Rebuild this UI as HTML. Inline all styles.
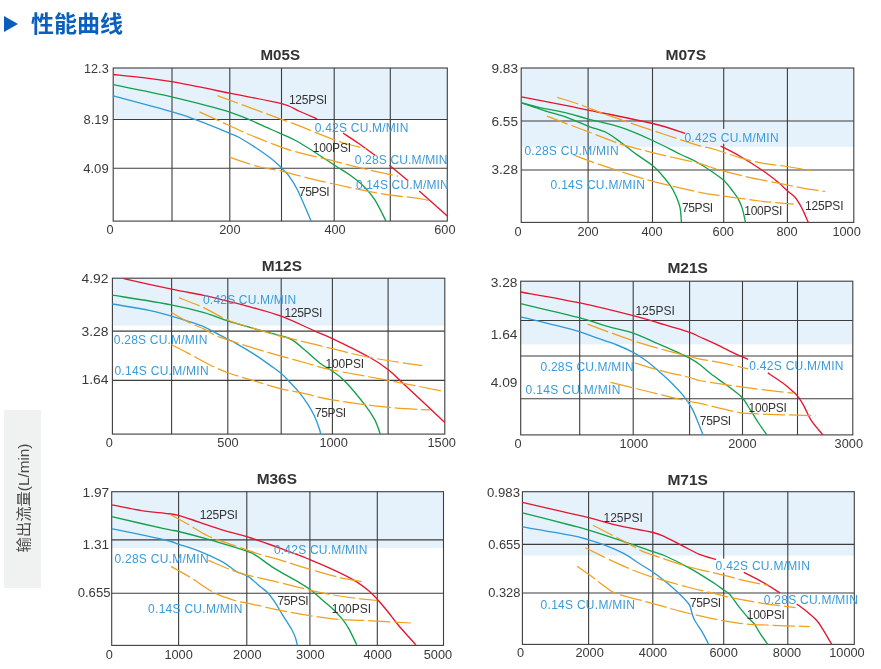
<!DOCTYPE html>
<html><head><meta charset="utf-8"><title>性能曲线</title>
<style>
html,body{margin:0;padding:0;background:#fff;}
body{width:881px;height:669px;overflow:hidden;position:relative;}
.hdr{position:absolute;left:4px;top:8.3px;height:32px;color:#0b5fbe;font-family:"Liberation Sans","Noto Sans CJK SC",sans-serif;font-weight:bold;font-size:23px;line-height:32px;white-space:nowrap;}
.tri{position:absolute;left:4.3px;top:16px;width:0;height:0;border-top:8px solid transparent;border-bottom:8px solid transparent;border-left:14.8px solid #0b5dbd;}
.side{position:absolute;left:4px;top:410px;width:37px;height:178px;background:#f0f1f1;}
.side span{position:absolute;left:50%;top:50%;transform:translate(-50%,-50%) rotate(-90deg);white-space:nowrap;font-family:"Liberation Sans","Noto Sans CJK SC",sans-serif;font-size:15.3px;color:#4a4a4a;margin-top:-1.5px;margin-left:-1px;}
svg{position:absolute;left:0;top:0;}
.g{stroke:#3d3d3d;stroke-width:1.1;fill:none;}
.c{fill:none;stroke-width:1.35;stroke-linejoin:round;}
.o{fill:none;stroke-width:1.25;stroke-dasharray:22 4;}
.l{font-family:'Liberation Sans', Arial, sans-serif;font-size:12px;}
.a{font-family:'Liberation Sans', Arial, sans-serif;font-size:12.3px;fill:#3a3a3a;}
.t{font-family:'Liberation Sans', Arial, sans-serif;font-size:14.2px;font-weight:bold;fill:#333;}
</style></head><body>
<div class="tri"></div>
<div class="hdr" style="left:31px">性能曲线</div>
<div class="side"><span>输出流量(L/min)</span></div>
<svg width="881" height="669" viewBox="0 0 881 669">
<rect x="113.2" y="68.0" width="334.1" height="51.5" fill="#e5f2fc"/>
<line x1="113.2" y1="119.5" x2="447.3" y2="119.5" class="g"/>
<line x1="113.2" y1="168.3" x2="447.3" y2="168.3" class="g"/>
<line x1="172.0" y1="68.0" x2="172.0" y2="221.1" class="g"/>
<line x1="229.8" y1="68.0" x2="229.8" y2="221.1" class="g"/>
<line x1="281.5" y1="68.0" x2="281.5" y2="221.1" class="g"/>
<line x1="334.2" y1="68.0" x2="334.2" y2="221.1" class="g"/>
<line x1="390.3" y1="68.0" x2="390.3" y2="221.1" class="g"/>
<rect x="113.2" y="68.0" width="334.1" height="153.1" fill="none" class="g"/>
<path d="M113.2 74.5 C117.7 75.0 130.3 76.2 140.0 77.4 C149.7 78.6 156.6 79.1 171.6 81.7 C186.6 84.3 211.5 89.5 229.8 93.2 C248.2 96.9 270.0 100.7 281.7 103.7 C293.4 106.8 294.1 109.0 300.0 111.5 C305.9 114.0 314.2 117.6 317.0 118.8" stroke="#e5142f" class="c"/>
<path d="M343.0 133.0 C345.5 134.7 352.7 139.3 358.0 143.0 C363.3 146.7 372.1 153.1 374.9 155.1" stroke="#e5142f" class="c"/>
<path d="M389.4 165.3 L408.1 180.7" stroke="#e5142f" class="c"/>
<path d="M419.2 190.9 L447.3 216.1" stroke="#e5142f" class="c"/>
<path d="M113.2 84.7 C122.9 86.7 152.2 92.3 171.6 96.9 C191.0 101.5 213.2 106.8 229.8 112.2 C246.4 117.6 259.9 124.6 271.2 129.5 C282.5 134.4 287.0 135.6 297.5 141.5 C308.0 147.4 325.5 159.4 334.2 165.0 C342.9 170.6 344.8 171.3 349.9 175.0 C355.0 178.7 360.7 183.2 364.9 187.4 C369.1 191.6 371.4 194.3 374.9 199.9 C378.4 205.5 384.2 217.6 386.1 221.1" stroke="#13a04b" class="c"/>
<path d="M113.2 95.9 C122.9 98.5 158.0 107.8 171.6 111.7 C185.2 115.6 185.2 115.8 194.9 119.4 C204.6 123.0 221.7 129.9 229.8 133.3 C237.9 136.7 236.8 136.0 243.5 140.0 C250.2 144.0 263.4 152.8 269.8 157.5 C276.2 162.2 278.5 165.1 281.7 168.2 C284.9 171.3 286.4 172.4 289.0 176.0 C291.6 179.6 293.8 182.5 297.5 190.0 C301.2 197.5 308.9 215.9 311.2 221.1" stroke="#2f9ad6" class="c"/>
<path d="M217.4 95.6 C228.1 99.6 267.9 114.3 281.7 119.4 C295.5 124.5 290.4 122.5 300.0 126.2 C309.6 129.9 328.1 137.7 339.2 141.5 C350.3 145.3 361.9 147.6 366.4 148.8" stroke="#f1a01c" class="o"/>
<path d="M199.4 111.9 C202.8 113.5 212.4 117.7 220.0 121.2 C227.6 124.7 236.8 129.2 244.9 132.7 C253.0 136.2 260.6 139.3 268.7 142.4 C276.8 145.5 282.7 148.1 293.6 151.2 C304.5 154.3 322.1 158.1 334.0 161.1 C345.9 164.1 354.3 166.5 365.0 169.0 C375.7 171.5 392.5 175.0 398.0 176.2" stroke="#f1a01c" class="o"/>
<path d="M229.4 157.1 C234.5 158.8 251.3 164.7 260.0 167.0 C268.7 169.3 275.0 169.7 281.7 171.2 C288.4 172.7 291.3 173.9 300.0 176.0 C308.7 178.1 320.7 181.1 334.0 184.0 C347.3 186.9 365.8 191.1 380.0 193.5 C394.2 195.9 410.6 197.2 419.2 198.5 C427.8 199.8 429.4 200.8 431.4 201.2" stroke="#f1a01c" class="o"/>
<text x="288.9" y="104.4" textLength="38.1" lengthAdjust="spacing" fill="#333333" class="l">125PSI</text>
<text x="314.7" y="132.3" textLength="93.6" lengthAdjust="spacing" fill="#3a9bd9" class="l">0.42S CU.M/MIN</text>
<text x="312.8" y="152.0" textLength="38.2" lengthAdjust="spacing" fill="#333333" class="l">100PSI</text>
<text x="354.8" y="164.3" textLength="92.7" lengthAdjust="spacing" fill="#3a9bd9" class="l">0.28S CU.M/MIN</text>
<text x="355.9" y="189.0" textLength="92.8" lengthAdjust="spacing" fill="#3a9bd9" class="l">0.14S CU.M/MIN</text>
<text x="299.1" y="196.2" textLength="30.4" lengthAdjust="spacing" fill="#333333" class="l">75PSI</text>
<text x="84.0" y="72.5" textLength="24.7" lengthAdjust="spacingAndGlyphs" class="a">12.3</text>
<text x="83.5" y="124.0" textLength="25.2" lengthAdjust="spacingAndGlyphs" class="a">8.19</text>
<text x="83.2" y="173.0" textLength="25.5" lengthAdjust="spacingAndGlyphs" class="a">4.09</text>
<text x="106.5" y="234.4" textLength="7.1" lengthAdjust="spacingAndGlyphs" class="a">0</text>
<text x="219.2" y="234.4" textLength="21.3" lengthAdjust="spacingAndGlyphs" class="a">200</text>
<text x="324.4" y="234.4" textLength="21.3" lengthAdjust="spacingAndGlyphs" class="a">400</text>
<text x="434.2" y="234.4" textLength="21.3" lengthAdjust="spacingAndGlyphs" class="a">600</text>
<text x="260.4" y="60.0" textLength="39.6" lengthAdjust="spacingAndGlyphs" class="t">M05S</text>
<rect x="521.2" y="68.0" width="332.6" height="78.8" fill="#e5f2fc"/>
<line x1="521.2" y1="121.0" x2="853.8" y2="121.0" class="g"/>
<line x1="521.2" y1="170.0" x2="853.8" y2="170.0" class="g"/>
<line x1="588.1" y1="68.0" x2="588.1" y2="222.4" class="g"/>
<line x1="652.5" y1="68.0" x2="652.5" y2="222.4" class="g"/>
<line x1="723.7" y1="68.0" x2="723.7" y2="222.4" class="g"/>
<line x1="787.4" y1="68.0" x2="787.4" y2="222.4" class="g"/>
<rect x="521.2" y="68.0" width="332.6" height="154.4" fill="none" class="g"/>
<rect x="684.0" y="128.9" width="95.6" height="14.8" fill="#e5f2fc"/>
<path d="M521.5 96.8 C529.2 98.3 556.9 103.7 568.0 105.9 C579.1 108.1 574.0 107.2 588.1 110.1 C602.2 113.0 636.4 119.6 652.6 123.5 C668.8 127.4 679.8 131.8 685.3 133.4" stroke="#e5142f" class="c"/>
<path d="M720.7 146.1 C724.0 147.8 733.4 152.4 740.4 156.5 C747.4 160.6 756.2 166.2 762.6 170.5 C769.0 174.8 774.4 179.2 778.5 182.6 C782.6 186.0 784.6 188.4 787.4 190.8 C790.1 193.2 792.9 194.9 795.0 197.2 C797.1 199.5 798.6 202.3 800.1 204.8 C801.6 207.3 802.5 209.4 803.9 212.4 C805.3 215.4 807.6 220.9 808.4 222.6" stroke="#e5142f" class="c"/>
<path d="M521.5 102.8 C524.6 103.6 532.2 105.8 540.0 107.6 C547.8 109.3 560.0 111.4 568.0 113.3 C576.0 115.2 579.1 116.7 588.1 119.1 C597.1 121.5 611.0 124.1 621.7 127.7 C632.5 131.3 642.9 136.1 652.6 140.5 C662.3 144.9 672.3 150.3 679.8 154.0 C687.3 157.7 691.6 159.2 697.5 162.5 C703.4 165.8 710.6 170.7 715.0 173.7 C719.4 176.7 721.1 178.0 723.9 180.6 C726.6 183.2 729.2 186.5 731.5 189.5 C733.8 192.5 736.1 195.2 737.9 198.4 C739.7 201.6 741.0 204.6 742.3 208.6 C743.6 212.6 745.0 220.3 745.5 222.6" stroke="#13a04b" class="c"/>
<path d="M521.5 102.8 C525.4 104.1 537.2 108.3 545.0 110.8 C552.8 113.3 560.7 115.2 568.0 117.8 C575.3 120.4 582.2 123.8 588.6 126.3 C595.0 128.8 600.8 129.8 606.3 132.5 C611.8 135.2 616.1 139.0 621.3 142.7 C626.4 146.4 631.6 150.8 637.2 154.9 C642.8 159.0 649.4 162.5 654.8 167.5 C660.2 172.5 666.3 180.2 669.8 184.9 C673.3 189.7 674.3 192.2 676.0 196.0 C677.7 199.8 679.1 203.0 680.0 207.4 C680.9 211.8 681.2 219.9 681.4 222.4" stroke="#13a04b" class="c"/>
<path d="M557.2 97.4 C561.0 98.6 572.3 101.9 580.0 104.6 C587.7 107.3 595.4 110.7 603.6 113.7 C611.8 116.7 620.8 119.7 629.2 122.6 C637.6 125.5 645.8 128.2 654.2 131.0 C662.6 133.8 672.2 137.0 679.8 139.5 C687.4 142.0 694.1 144.1 700.0 145.8 C705.9 147.5 708.3 147.5 715.0 149.5 C721.7 151.5 732.6 155.5 740.4 157.8 C748.2 160.1 754.8 161.7 762.0 163.1 C769.2 164.5 775.4 164.8 783.6 166.0 C791.9 167.2 806.9 169.8 811.5 170.5" stroke="#f1a01c" class="o"/>
<path d="M547.0 116.1 C550.5 117.5 561.3 121.7 568.2 124.3 C575.1 126.9 580.2 128.6 588.6 131.8 C597.0 135.0 609.4 140.3 618.5 143.4 C627.6 146.5 635.4 148.2 643.1 150.2 C650.9 152.2 655.5 153.3 665.0 155.6 C674.5 157.8 691.7 161.5 700.0 163.7 C708.3 165.9 707.2 166.4 715.0 168.6 C722.8 170.8 736.2 174.4 746.8 176.8 C757.4 179.2 769.0 181.3 778.5 183.2 C788.0 185.1 796.1 186.9 803.9 188.3 C811.6 189.7 821.5 190.9 825.0 191.4" stroke="#f1a01c" class="o"/>
<path d="M573.6 155.0 C576.3 156.0 582.8 158.7 589.9 161.2 C597.0 163.7 605.7 166.7 616.1 170.0 C626.5 173.3 638.3 177.5 652.3 181.2 C666.3 184.9 689.5 190.1 700.0 192.4 C710.5 194.7 708.9 194.0 715.0 194.9 C721.1 195.8 729.2 196.8 736.6 197.8 C744.0 198.8 750.0 199.9 759.5 201.0 C769.0 202.1 788.1 203.6 793.8 204.1" stroke="#f1a01c" class="o"/>
<text x="684.4" y="142.2" textLength="94.2" lengthAdjust="spacing" fill="#3a9bd9" class="l">0.42S CU.M/MIN</text>
<text x="524.4" y="154.6" textLength="94.2" lengthAdjust="spacing" fill="#3a9bd9" class="l">0.28S CU.M/MIN</text>
<text x="550.6" y="188.6" textLength="94.2" lengthAdjust="spacing" fill="#3a9bd9" class="l">0.14S CU.M/MIN</text>
<text x="681.9" y="212.4" textLength="31.3" lengthAdjust="spacing" fill="#333333" class="l">75PSI</text>
<text x="744.3" y="215.4" textLength="38.0" lengthAdjust="spacing" fill="#333333" class="l">100PSI</text>
<text x="805.0" y="210.4" textLength="38.5" lengthAdjust="spacing" fill="#333333" class="l">125PSI</text>
<text x="491.5" y="73.2" textLength="26.5" lengthAdjust="spacingAndGlyphs" class="a">9.83</text>
<text x="491.5" y="125.6" textLength="26.5" lengthAdjust="spacingAndGlyphs" class="a">6.55</text>
<text x="491.5" y="174.4" textLength="26.5" lengthAdjust="spacingAndGlyphs" class="a">3.28</text>
<text x="514.5" y="236.0" textLength="7.1" lengthAdjust="spacingAndGlyphs" class="a">0</text>
<text x="577.4" y="236.0" textLength="21.3" lengthAdjust="spacingAndGlyphs" class="a">200</text>
<text x="641.4" y="236.0" textLength="21.3" lengthAdjust="spacingAndGlyphs" class="a">400</text>
<text x="712.6" y="236.0" textLength="21.3" lengthAdjust="spacingAndGlyphs" class="a">600</text>
<text x="776.4" y="236.0" textLength="21.3" lengthAdjust="spacingAndGlyphs" class="a">800</text>
<text x="832.4" y="236.0" textLength="28.4" lengthAdjust="spacingAndGlyphs" class="a">1000</text>
<text x="665.4" y="60.0" textLength="40.8" lengthAdjust="spacingAndGlyphs" class="t">M07S</text>
<rect x="112.4" y="278.2" width="332.4" height="47.5" fill="#e5f2fc"/>
<line x1="112.4" y1="331.1" x2="444.8" y2="331.1" class="g"/>
<line x1="112.4" y1="380.4" x2="444.8" y2="380.4" class="g"/>
<line x1="171.6" y1="278.2" x2="171.6" y2="434.1" class="g"/>
<line x1="227.8" y1="278.2" x2="227.8" y2="434.1" class="g"/>
<line x1="281.2" y1="278.2" x2="281.2" y2="434.1" class="g"/>
<line x1="332.4" y1="278.2" x2="332.4" y2="434.1" class="g"/>
<line x1="388.1" y1="278.2" x2="388.1" y2="434.1" class="g"/>
<rect x="112.4" y="278.2" width="332.4" height="155.9" fill="none" class="g"/>
<path d="M123.7 278.7 C131.7 280.4 158.3 286.4 171.6 289.2 C184.9 292.0 194.2 293.4 203.6 295.4 C213.0 297.4 220.1 299.3 227.8 301.2 C235.5 303.1 241.1 304.4 250.0 306.9 C258.9 309.4 270.4 312.2 281.2 316.2 C292.0 320.2 306.4 327.4 314.9 331.1 C323.4 334.8 323.2 334.2 332.4 338.6 C341.6 343.0 360.5 352.3 369.9 357.5 C379.3 362.7 382.8 365.4 388.6 370.0 C394.4 374.6 395.4 376.2 404.8 384.9 C414.2 393.6 438.1 416.1 444.8 422.4" stroke="#e5142f" class="c"/>
<path d="M112.4 295.1 C122.2 296.7 155.9 301.9 171.2 304.8 C186.5 307.7 194.7 309.9 204.1 312.6 C213.5 315.3 219.3 318.2 227.7 320.9 C236.1 323.6 245.5 326.1 254.4 328.6 C263.3 331.1 274.7 333.9 281.0 335.8 C287.3 337.7 288.0 337.3 292.2 339.8 C296.4 342.3 301.4 347.1 306.0 351.0 C310.6 354.9 315.3 359.6 319.7 363.0 C324.1 366.4 328.2 368.2 332.4 371.2 C336.6 374.2 339.5 375.6 344.9 381.2 C350.3 386.8 359.9 398.4 364.9 404.9 C369.9 411.3 372.2 415.0 374.8 419.9 C377.4 424.8 379.4 431.7 380.3 434.1" stroke="#13a04b" class="c"/>
<path d="M112.4 304.0 C118.5 305.1 139.4 308.3 149.2 310.3 C159.0 312.3 164.7 314.3 171.2 316.1 C177.7 317.9 182.9 319.5 188.4 321.3 C193.9 323.1 198.8 324.5 204.1 326.8 C209.4 329.1 214.5 332.2 220.0 335.1 C225.5 338.0 231.5 340.9 237.2 344.1 C242.9 347.3 248.7 350.7 254.4 354.4 C260.1 358.1 267.2 363.2 271.6 366.4 C276.0 369.5 278.1 370.9 281.0 373.3 C283.9 375.7 285.8 377.9 288.8 381.0 C291.8 384.1 295.9 388.3 299.0 392.2 C302.1 396.1 305.1 400.2 307.7 404.2 C310.3 408.2 312.5 412.0 314.5 416.3 C316.5 420.6 318.7 427.0 319.7 430.0 C320.7 433.0 320.5 433.4 320.6 434.1" stroke="#2f9ad6" class="c"/>
<path d="M179.0 297.7 C183.2 299.4 196.0 304.2 204.1 307.9 C212.2 311.6 219.3 316.6 227.7 320.0 C236.1 323.4 245.5 325.9 254.4 328.6 C263.3 331.3 274.7 334.6 281.0 336.3 C287.3 338.0 283.6 336.8 292.2 338.9 C300.8 341.0 319.4 345.6 332.4 348.7 C345.3 351.8 354.9 354.7 369.9 357.5 C384.9 360.3 413.6 364.3 422.3 365.7" stroke="#f1a01c" class="o"/>
<path d="M171.5 312.6 C174.3 314.2 183.0 319.4 188.4 322.1 C193.8 324.9 198.8 326.6 204.1 329.1 C209.4 331.6 211.6 334.0 220.0 337.2 C228.4 340.4 244.2 345.2 254.4 348.4 C264.6 351.5 272.4 353.7 281.0 356.1 C289.6 358.5 297.4 360.7 306.0 363.0 C314.6 365.3 318.6 367.1 332.4 370.0 C346.2 372.9 369.9 376.8 388.6 380.4 C407.3 384.0 435.4 389.8 444.8 391.7" stroke="#f1a01c" class="o"/>
<path d="M171.5 344.8 C174.3 346.2 181.9 350.0 188.4 353.4 C194.9 356.8 203.5 361.8 210.4 365.2 C217.3 368.6 222.7 370.9 230.0 373.5 C237.3 376.1 245.9 378.4 254.4 381.0 C262.9 383.6 272.4 386.7 281.0 388.8 C289.6 390.9 297.4 392.0 306.0 393.9 C314.6 395.8 318.6 397.6 332.4 399.9 C346.2 402.1 372.4 405.7 388.6 407.4 C404.8 409.1 422.9 409.5 429.8 409.9" stroke="#f1a01c" class="o"/>
<text x="203.0" y="303.6" textLength="93.2" lengthAdjust="spacing" fill="#3a9bd9" class="l">0.42S CU.M/MIN</text>
<text x="284.4" y="317.2" textLength="38.0" lengthAdjust="spacing" fill="#333333" class="l">125PSI</text>
<text x="113.8" y="343.6" textLength="93.5" lengthAdjust="spacing" fill="#3a9bd9" class="l">0.28S CU.M/MIN</text>
<text x="114.4" y="375.4" textLength="94.2" lengthAdjust="spacing" fill="#3a9bd9" class="l">0.14S CU.M/MIN</text>
<text x="325.6" y="367.5" textLength="38.5" lengthAdjust="spacing" fill="#333333" class="l">100PSI</text>
<text x="315.1" y="416.7" textLength="31.0" lengthAdjust="spacing" fill="#333333" class="l">75PSI</text>
<text x="81.5" y="283.2" textLength="27.0" lengthAdjust="spacingAndGlyphs" class="a">4.92</text>
<text x="81.5" y="335.6" textLength="27.0" lengthAdjust="spacingAndGlyphs" class="a">3.28</text>
<text x="81.5" y="384.4" textLength="27.0" lengthAdjust="spacingAndGlyphs" class="a">1.64</text>
<text x="105.8" y="447.4" textLength="7.1" lengthAdjust="spacingAndGlyphs" class="a">0</text>
<text x="217.3" y="447.4" textLength="21.3" lengthAdjust="spacingAndGlyphs" class="a">500</text>
<text x="319.4" y="447.4" textLength="28.4" lengthAdjust="spacingAndGlyphs" class="a">1000</text>
<text x="427.5" y="447.4" textLength="28.4" lengthAdjust="spacingAndGlyphs" class="a">1500</text>
<text x="261.7" y="271.2" textLength="40.3" lengthAdjust="spacingAndGlyphs" class="t">M12S</text>
<rect x="520.7" y="281.2" width="332.1" height="63.2" fill="#e5f2fc"/>
<line x1="520.7" y1="320.5" x2="852.8" y2="320.5" class="g"/>
<line x1="520.7" y1="356.0" x2="852.8" y2="356.0" class="g"/>
<line x1="520.7" y1="398.7" x2="852.8" y2="398.7" class="g"/>
<line x1="579.7" y1="281.2" x2="579.7" y2="434.9" class="g"/>
<line x1="633.2" y1="281.2" x2="633.2" y2="434.9" class="g"/>
<line x1="689.6" y1="281.2" x2="689.6" y2="434.9" class="g"/>
<line x1="742.5" y1="281.2" x2="742.5" y2="434.9" class="g"/>
<line x1="797.5" y1="281.2" x2="797.5" y2="434.9" class="g"/>
<rect x="520.7" y="281.2" width="332.1" height="153.7" fill="none" class="g"/>
<path d="M520.7 292.0 C530.6 293.8 561.1 298.9 579.9 302.9 C598.6 306.8 620.1 312.3 633.2 315.7 C646.3 319.1 649.3 320.2 658.7 323.0 C668.1 325.8 682.8 330.1 689.7 332.4 C696.6 334.7 695.3 334.9 700.0 337.0 C704.7 339.1 711.9 342.2 717.9 345.1 C723.9 348.0 730.9 351.7 735.9 354.1 C740.9 356.5 746.1 358.5 748.1 359.4" stroke="#e5142f" class="c"/>
<path d="M767.8 372.9 C770.2 374.5 778.3 379.7 782.5 382.8 C786.7 385.9 790.6 389.3 793.2 391.7 C795.8 394.1 796.5 394.7 798.3 397.1 C800.1 399.5 801.9 402.2 804.0 406.1 C806.1 410.0 808.1 415.6 811.2 420.4 C814.3 425.2 820.9 432.4 822.8 434.8" stroke="#e5142f" class="c"/>
<path d="M520.7 303.7 C530.6 306.1 565.6 314.1 579.9 317.9 C594.2 321.6 597.5 323.7 606.4 326.2 C615.3 328.7 624.5 330.1 633.2 333.1 C641.9 336.1 651.7 341.0 658.7 344.0 C665.8 347.0 670.3 348.9 675.5 351.3 C680.7 353.7 685.6 355.9 689.7 358.2 C693.8 360.4 696.5 362.2 700.0 364.8 C703.5 367.4 706.9 370.8 710.8 373.8 C714.7 376.8 719.4 380.0 723.3 382.8 C727.2 385.6 730.9 388.3 734.1 390.8 C737.3 393.3 739.8 394.9 742.5 398.0 C745.2 401.1 747.4 405.4 750.2 409.7 C753.0 414.0 756.5 419.8 759.2 424.0 C762.0 428.2 765.5 433.0 766.7 434.8" stroke="#13a04b" class="c"/>
<path d="M520.7 316.9 C529.8 319.1 562.5 326.9 575.0 330.4 C587.5 333.9 588.9 335.3 595.9 337.7 C602.9 340.1 610.7 342.6 616.9 345.0 C623.1 347.4 628.3 349.7 633.2 352.3 C638.1 354.9 642.0 357.6 646.2 360.7 C650.5 363.8 654.5 367.5 658.7 371.2 C662.9 374.9 667.1 378.5 671.3 382.7 C675.5 386.9 680.4 391.9 683.9 396.3 C687.4 400.7 689.8 404.4 692.2 408.9 C694.6 413.4 696.7 419.1 698.5 423.5 C700.3 427.9 702.3 433.1 703.1 435.0" stroke="#2f9ad6" class="c"/>
<path d="M587.6 324.1 C595.2 326.9 620.3 336.5 633.2 340.8 C646.1 345.1 655.6 347.6 665.0 350.2 C674.4 352.8 683.9 355.0 689.7 356.5 C695.5 358.0 695.3 358.2 700.0 359.1 C704.7 360.0 709.9 360.5 717.9 362.1 C725.9 363.7 743.1 367.7 748.1 368.8" stroke="#f1a01c" class="o"/>
<path d="M634.7 362.8 C638.7 364.0 649.5 367.7 658.7 370.1 C667.9 372.6 682.5 375.7 689.7 377.5 C696.9 379.3 692.9 379.4 701.8 381.0 C710.7 382.6 727.8 385.2 743.0 387.2 C758.2 389.2 784.8 392.2 793.2 393.2" stroke="#f1a01c" class="o"/>
<path d="M610.6 382.3 C614.4 383.2 624.5 385.8 633.2 387.9 C641.9 390.0 653.5 392.9 662.9 395.2 C672.3 397.5 683.5 400.1 689.7 401.5 C695.9 402.9 692.3 401.7 700.0 403.4 C707.7 405.1 726.9 410.1 735.9 411.8 C744.9 413.5 740.5 412.9 753.8 413.6 C767.1 414.3 805.4 415.5 815.7 415.9" stroke="#f1a01c" class="o"/>
<text x="635.4" y="314.8" textLength="39.4" lengthAdjust="spacing" fill="#333333" class="l">125PSI</text>
<text x="540.6" y="370.7" textLength="93.0" lengthAdjust="spacing" fill="#3a9bd9" class="l">0.28S CU.M/MIN</text>
<text x="525.6" y="394.4" textLength="94.7" lengthAdjust="spacing" fill="#3a9bd9" class="l">0.14S CU.M/MIN</text>
<text x="749.3" y="369.5" textLength="94.2" lengthAdjust="spacing" fill="#3a9bd9" class="l">0.42S CU.M/MIN</text>
<text x="748.5" y="411.9" textLength="38.3" lengthAdjust="spacing" fill="#333333" class="l">100PSI</text>
<text x="699.8" y="425.4" textLength="31.4" lengthAdjust="spacing" fill="#333333" class="l">75PSI</text>
<text x="490.7" y="286.7" textLength="26.8" lengthAdjust="spacingAndGlyphs" class="a">3.28</text>
<text x="490.7" y="338.6" textLength="26.8" lengthAdjust="spacingAndGlyphs" class="a">1.64</text>
<text x="490.7" y="387.4" textLength="26.8" lengthAdjust="spacingAndGlyphs" class="a">4.09</text>
<text x="514.6" y="447.9" textLength="7.1" lengthAdjust="spacingAndGlyphs" class="a">0</text>
<text x="619.6" y="447.9" textLength="28.4" lengthAdjust="spacingAndGlyphs" class="a">1000</text>
<text x="728.2" y="447.9" textLength="28.4" lengthAdjust="spacingAndGlyphs" class="a">2000</text>
<text x="834.6" y="447.9" textLength="28.4" lengthAdjust="spacingAndGlyphs" class="a">3000</text>
<text x="667.4" y="272.5" textLength="40.6" lengthAdjust="spacingAndGlyphs" class="t">M21S</text>
<rect x="111.7" y="491.7" width="331.8" height="56.2" fill="#e5f2fc"/>
<line x1="111.7" y1="539.9" x2="443.5" y2="539.9" class="g"/>
<line x1="111.7" y1="593.2" x2="443.5" y2="593.2" class="g"/>
<line x1="178.6" y1="491.7" x2="178.6" y2="645.4" class="g"/>
<line x1="246.8" y1="491.7" x2="246.8" y2="645.4" class="g"/>
<line x1="309.9" y1="491.7" x2="309.9" y2="645.4" class="g"/>
<line x1="377.3" y1="491.7" x2="377.3" y2="645.4" class="g"/>
<rect x="111.7" y="491.7" width="331.8" height="153.7" fill="none" class="g"/>
<path d="M111.7 504.9 C117.2 505.9 136.0 509.8 144.9 511.2 C153.8 512.6 159.4 512.6 165.0 513.3 C170.6 514.0 172.9 513.8 178.6 515.3 C184.3 516.8 191.4 519.5 199.1 522.1 C206.8 524.7 216.7 528.2 224.6 530.6 C232.5 533.0 238.5 534.0 246.7 536.6 C254.9 539.2 265.1 542.8 274.0 546.0 C282.9 549.2 294.0 553.3 300.0 555.6 C306.0 557.9 304.4 557.4 309.9 559.7 C315.4 562.0 325.5 566.2 332.9 569.6 C340.3 573.0 348.2 576.8 354.2 580.3 C360.2 583.8 365.2 587.8 369.0 590.9 C372.8 594.0 374.2 595.9 377.2 599.2 C380.2 602.5 383.5 606.3 387.1 610.7 C390.7 615.1 393.8 619.8 398.6 625.5 C403.4 631.2 413.0 641.6 415.9 644.8" stroke="#e5142f" class="c"/>
<path d="M111.7 516.7 C120.6 518.7 153.8 526.4 165.0 528.9 C176.2 531.4 171.5 529.8 178.6 531.5 C185.7 533.2 196.2 535.9 207.6 539.2 C218.9 542.5 238.5 548.3 246.7 551.1 C254.9 553.9 252.4 553.4 257.0 556.2 C261.6 559.0 267.2 563.9 274.0 568.1 C280.8 572.4 291.8 578.2 297.8 581.7 C303.8 585.2 306.0 586.4 309.9 589.3 C313.8 592.2 317.6 595.9 321.4 599.2 C325.2 602.5 329.3 605.6 332.9 609.0 C336.4 612.4 340.0 616.3 342.7 619.7 C345.4 623.1 347.0 625.4 349.3 629.6 C351.6 633.8 355.5 642.3 356.7 644.8" stroke="#13a04b" class="c"/>
<path d="M111.7 528.7 C120.6 530.6 153.8 537.4 165.0 540.0 C176.2 542.6 172.9 542.4 178.6 544.3 C184.3 546.1 191.7 548.1 199.1 551.1 C206.5 554.1 216.7 558.7 222.9 562.1 C229.1 565.5 232.2 569.1 236.5 571.5 C240.8 573.9 244.4 574.1 248.4 576.6 C252.4 579.1 257.2 584.1 260.4 586.8 C263.6 589.4 265.1 589.9 267.5 592.5 C269.9 595.1 272.5 598.7 275.0 602.4 C277.5 606.1 279.7 610.3 282.5 614.9 C285.3 619.5 289.8 626.1 292.0 630.0 C294.2 633.9 294.6 635.4 295.5 638.0 C296.4 640.6 297.1 644.2 297.4 645.4" stroke="#2f9ad6" class="c"/>
<path d="M170.1 514.5 C172.9 516.0 180.8 520.2 187.1 523.8 C193.3 527.3 199.9 532.2 207.6 535.8 C215.3 539.3 224.3 542.0 233.1 545.1 C241.9 548.2 253.3 552.2 260.4 554.5 C267.5 556.8 269.1 556.7 275.7 558.7 C282.3 560.7 293.2 564.2 300.0 566.3 C306.8 568.4 309.5 569.3 316.4 571.2 C323.2 573.1 333.6 576.1 341.1 577.8 C348.6 579.5 358.2 580.8 361.6 581.4" stroke="#f1a01c" class="o"/>
<path d="M208.4 560.4 C212.5 562.1 226.7 568.3 233.1 570.7 C239.5 573.1 239.6 573.1 246.7 574.9 C253.8 576.7 266.8 579.6 275.7 581.7 C284.6 583.8 291.8 585.8 300.0 587.7 C308.2 589.7 316.5 591.8 324.7 593.4 C332.9 595.0 340.6 596.3 349.3 597.5 C358.1 598.7 372.6 600.0 377.2 600.5" stroke="#f1a01c" class="o"/>
<path d="M171.0 566.4 C174.2 568.2 183.6 573.2 190.5 577.5 C197.4 581.8 205.6 588.2 212.7 592.0 C219.8 595.8 226.9 598.0 233.1 600.0 C239.3 602.0 240.5 601.7 250.0 603.7 C259.5 605.7 276.2 609.7 290.0 612.2 C303.8 614.7 320.3 617.5 332.9 618.9 C345.5 620.3 352.7 619.8 365.7 620.5 C378.7 621.2 403.4 622.6 410.9 623.0" stroke="#f1a01c" class="o"/>
<text x="199.7" y="518.6" textLength="38.1" lengthAdjust="spacing" fill="#333333" class="l">125PSI</text>
<text x="114.4" y="562.6" textLength="94.2" lengthAdjust="spacing" fill="#3a9bd9" class="l">0.28S CU.M/MIN</text>
<text x="273.9" y="553.5" textLength="93.5" lengthAdjust="spacing" fill="#3a9bd9" class="l">0.42S CU.M/MIN</text>
<text x="148.1" y="612.8" textLength="94.2" lengthAdjust="spacing" fill="#3a9bd9" class="l">0.14S CU.M/MIN</text>
<text x="277.4" y="605.4" textLength="31.3" lengthAdjust="spacing" fill="#333333" class="l">75PSI</text>
<text x="331.8" y="612.8" textLength="39.3" lengthAdjust="spacing" fill="#333333" class="l">100PSI</text>
<text x="82.5" y="496.7" textLength="26.7" lengthAdjust="spacingAndGlyphs" class="a">1.97</text>
<text x="82.5" y="548.6" textLength="26.7" lengthAdjust="spacingAndGlyphs" class="a">1.31</text>
<text x="77.7" y="597.4" textLength="32.8" lengthAdjust="spacingAndGlyphs" class="a">0.655</text>
<text x="105.8" y="658.6" textLength="7.1" lengthAdjust="spacingAndGlyphs" class="a">0</text>
<text x="164.4" y="658.6" textLength="28.4" lengthAdjust="spacingAndGlyphs" class="a">1000</text>
<text x="233.1" y="658.6" textLength="28.4" lengthAdjust="spacingAndGlyphs" class="a">2000</text>
<text x="296.1" y="658.6" textLength="28.4" lengthAdjust="spacingAndGlyphs" class="a">3000</text>
<text x="363.5" y="658.6" textLength="28.4" lengthAdjust="spacingAndGlyphs" class="a">4000</text>
<text x="423.7" y="658.6" textLength="28.4" lengthAdjust="spacingAndGlyphs" class="a">5000</text>
<text x="256.7" y="484.2" textLength="40.3" lengthAdjust="spacingAndGlyphs" class="t">M36S</text>
<rect x="522.4" y="491.7" width="331.9" height="63.9" fill="#e5f2fc"/>
<line x1="522.4" y1="544.4" x2="854.3" y2="544.4" class="g"/>
<line x1="522.4" y1="593.0" x2="854.3" y2="593.0" class="g"/>
<line x1="588.6" y1="491.7" x2="588.6" y2="644.4" class="g"/>
<line x1="652.8" y1="491.7" x2="652.8" y2="644.4" class="g"/>
<line x1="723.7" y1="491.7" x2="723.7" y2="644.4" class="g"/>
<line x1="787.8" y1="491.7" x2="787.8" y2="644.4" class="g"/>
<rect x="522.4" y="491.7" width="331.9" height="152.7" fill="none" class="g"/>
<rect x="716.0" y="558.6" width="29.0" height="13.9" fill="#ffffff"/>
<path d="M522.4 502.4 C527.8 503.6 547.0 508.1 554.9 509.9 C562.8 511.7 564.4 512.1 570.0 513.4 C575.6 514.7 580.2 515.6 588.7 517.7 C597.2 519.8 610.4 523.7 621.1 526.2 C631.8 528.7 645.7 530.7 653.1 532.5 C660.5 534.3 660.5 535.0 665.4 537.2 C670.3 539.4 676.7 542.9 682.4 545.8 C688.1 548.6 693.8 552.0 699.4 554.3 C705.0 556.6 713.3 558.5 716.1 559.4" stroke="#e5142f" class="c"/>
<path d="M743.8 572.3 C746.7 573.8 755.1 577.9 761.1 581.3 C767.1 584.7 776.9 591.0 780.0 592.9" stroke="#e5142f" class="c"/>
<path d="M796.8 604.0 C798.5 605.3 803.8 609.0 807.2 611.8 C810.6 614.6 814.3 617.6 817.0 620.8 C819.7 623.9 821.1 626.7 823.6 630.7 C826.1 634.7 830.5 642.4 831.9 644.7" stroke="#e5142f" class="c"/>
<path d="M522.4 512.9 C530.3 514.9 559.0 522.1 570.0 525.0 C581.0 527.9 580.2 527.5 588.7 530.1 C597.2 532.7 610.4 537.0 621.1 540.6 C631.8 544.2 645.7 549.1 653.1 551.7 C660.5 554.3 659.4 553.3 665.4 556.0 C671.4 558.7 682.4 564.2 689.2 567.9 C696.0 571.6 701.9 575.5 706.2 578.1 C710.5 580.8 712.2 581.9 715.0 583.8 C717.8 585.7 720.7 587.8 723.2 589.6 C725.7 591.4 727.0 591.5 729.8 594.5 C732.5 597.5 736.7 603.9 739.7 607.7 C742.7 611.5 745.4 614.8 747.9 617.5 C750.4 620.2 752.6 621.6 754.5 624.1 C756.4 626.6 757.1 629.0 759.4 632.4 C761.6 635.8 766.6 642.7 768.0 644.7" stroke="#13a04b" class="c"/>
<path d="M522.4 526.9 C530.3 528.3 559.0 533.1 570.0 535.2 C581.0 537.4 583.0 538.2 588.7 539.8 C594.4 541.4 598.1 542.5 604.1 544.9 C610.1 547.2 618.8 550.9 624.5 553.9 C630.2 556.9 633.6 559.9 638.1 562.8 C642.6 565.7 647.2 568.2 651.7 571.3 C656.2 574.4 660.9 577.8 665.4 581.5 C669.9 585.2 675.0 589.6 679.0 593.4 C683.0 597.2 687.1 601.4 689.2 604.5 C691.3 607.6 690.8 609.6 691.7 612.2 C692.6 614.8 692.7 616.6 694.5 620.0 C696.3 623.4 700.0 628.3 702.4 632.4 C704.8 636.5 707.7 642.4 708.7 644.4" stroke="#2f9ad6" class="c"/>
<path d="M593.0 525.3 C597.7 527.7 613.0 535.5 621.1 539.8 C629.2 544.1 636.2 548.3 641.5 550.9 C646.8 553.5 647.4 553.1 653.1 555.1 C658.8 557.1 667.9 560.4 675.6 562.8 C683.3 565.2 692.8 567.9 699.4 569.6 C706.0 571.3 709.6 571.8 715.0 573.1 C720.4 574.4 726.0 575.8 731.5 577.2 C737.0 578.6 741.7 579.9 747.9 581.3 C754.1 582.7 765.1 584.7 768.5 585.4" stroke="#f1a01c" class="o"/>
<path d="M585.3 547.8 C589.8 550.0 604.3 557.2 612.6 561.1 C620.9 565.0 628.2 568.3 635.0 571.0 C641.8 573.7 644.1 574.5 653.1 577.3 C662.1 580.0 678.9 584.8 689.2 587.5 C699.5 590.2 708.0 592.0 715.0 593.7 C722.0 595.4 723.3 596.1 731.5 597.8 C739.7 599.4 753.7 602.0 764.4 603.6 C775.1 605.2 790.4 607.0 795.6 607.7" stroke="#f1a01c" class="o"/>
<path d="M577.2 566.2 C579.4 567.8 584.8 571.5 590.4 575.6 C596.0 579.7 605.8 587.6 610.9 590.9 C616.0 594.1 614.1 593.0 621.1 595.1 C628.1 597.2 643.2 600.9 653.1 603.6 C663.0 606.3 670.4 608.7 680.7 611.3 C691.0 613.9 705.2 617.2 715.0 619.2 C724.8 621.2 731.5 622.3 739.7 623.3 C747.9 624.3 752.8 624.5 764.4 625.0 C776.0 625.5 802.1 626.3 809.6 626.6" stroke="#f1a01c" class="o"/>
<text x="603.5" y="521.8" textLength="39.3" lengthAdjust="spacing" fill="#333333" class="l">125PSI</text>
<text x="715.6" y="570.4" textLength="94.2" lengthAdjust="spacing" fill="#3a9bd9" class="l">0.42S CU.M/MIN</text>
<text x="763.8" y="604.3" textLength="94.0" lengthAdjust="spacing" fill="#3a9bd9" class="l">0.28S CU.M/MIN</text>
<text x="540.6" y="609.4" textLength="94.2" lengthAdjust="spacing" fill="#3a9bd9" class="l">0.14S CU.M/MIN</text>
<text x="689.9" y="607.4" textLength="31.3" lengthAdjust="spacing" fill="#333333" class="l">75PSI</text>
<text x="746.8" y="618.6" textLength="38.0" lengthAdjust="spacing" fill="#333333" class="l">100PSI</text>
<text x="487.0" y="496.7" textLength="33.0" lengthAdjust="spacingAndGlyphs" class="a">0.983</text>
<text x="488.2" y="548.6" textLength="32.3" lengthAdjust="spacingAndGlyphs" class="a">0.655</text>
<text x="488.2" y="597.4" textLength="32.3" lengthAdjust="spacingAndGlyphs" class="a">0.328</text>
<text x="517.1" y="657.4" textLength="7.1" lengthAdjust="spacingAndGlyphs" class="a">0</text>
<text x="575.4" y="657.4" textLength="28.4" lengthAdjust="spacingAndGlyphs" class="a">2000</text>
<text x="638.8" y="657.4" textLength="28.4" lengthAdjust="spacingAndGlyphs" class="a">4000</text>
<text x="709.4" y="657.4" textLength="28.4" lengthAdjust="spacingAndGlyphs" class="a">6000</text>
<text x="772.8" y="657.4" textLength="28.4" lengthAdjust="spacingAndGlyphs" class="a">8000</text>
<text x="829.2" y="657.4" textLength="35.5" lengthAdjust="spacingAndGlyphs" class="a">10000</text>
<text x="667.4" y="485.0" textLength="40.6" lengthAdjust="spacingAndGlyphs" class="t">M71S</text>
</svg>
</body></html>
